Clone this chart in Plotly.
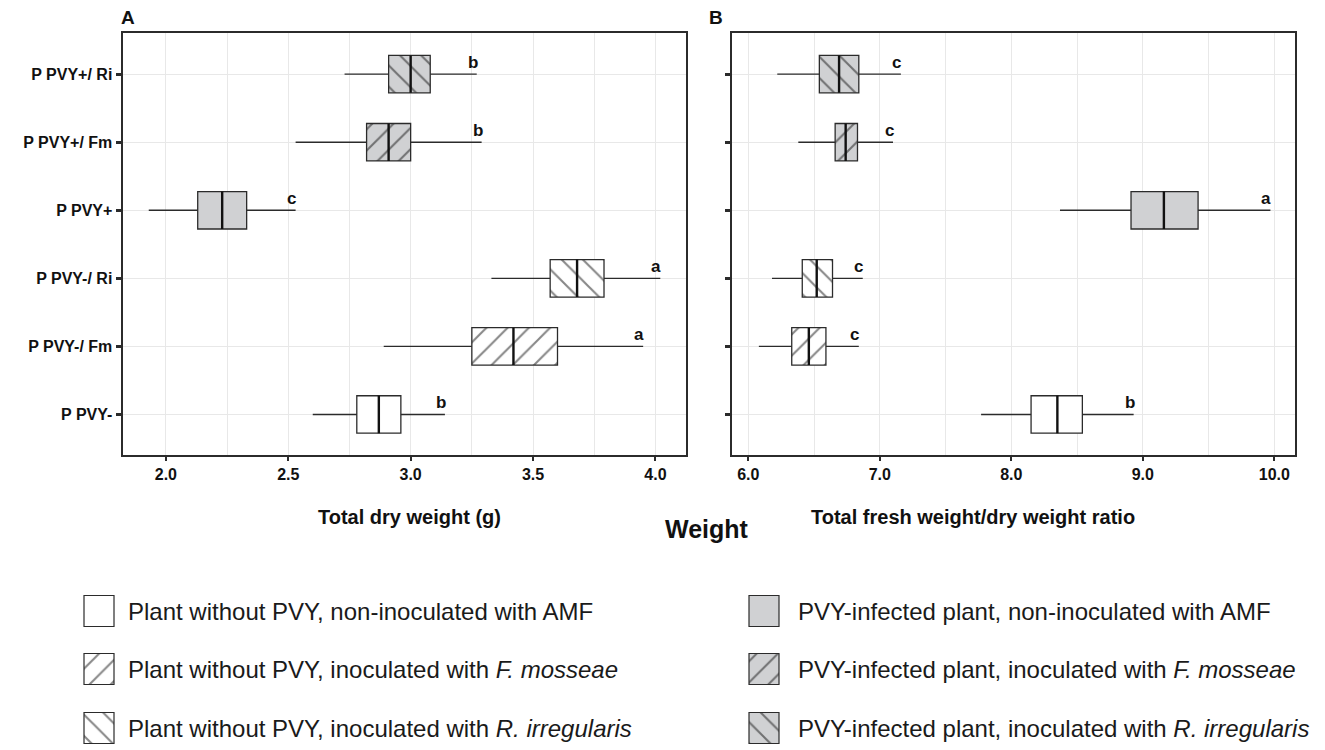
import plotly.graph_objects as go

# ---------------- data ----------------
categories = ["P PVY-", "P PVY-/ Fm", "P PVY-/ Ri", "P PVY+", "P PVY+/ Fm", "P PVY+/ Ri"]

# Panel A: total dry weight (g)
dry_low = [2.60, 2.89, 3.33, 1.93, 2.53, 2.73]
dry_q1 = [2.78, 3.25, 3.57, 2.13, 2.82, 2.91]
dry_med = [2.87, 3.42, 3.68, 2.23, 2.91, 3.00]
dry_q3 = [2.96, 3.60, 3.79, 2.33, 3.00, 3.08]
dry_high = [3.14, 3.95, 4.02, 2.53, 3.29, 3.27]
dry_letters = ["b", "a", "a", "c", "b", "b"]

# Panel B: total fresh weight / dry weight ratio
ratio_low = [7.77, 6.08, 6.18, 8.37, 6.38, 6.22]
ratio_q1 = [8.15, 6.33, 6.41, 8.91, 6.66, 6.54]
ratio_med = [8.35, 6.46, 6.52, 9.16, 6.74, 6.69]
ratio_q3 = [8.54, 6.59, 6.64, 9.42, 6.83, 6.84]
ratio_high = [8.93, 6.84, 6.87, 9.97, 7.10, 7.16]
ratio_letters = ["b", "c", "c", "a", "c", "c"]

legend_labels = [
    "Plant without PVY, non-inoculated with AMF",
    "Plant without PVY, inoculated with <i>F. mosseae</i>",
    "Plant without PVY, inoculated with <i>R. irregularis</i>",
    "PVY-infected plant, non-inoculated with AMF",
    "PVY-infected plant, inoculated with <i>F. mosseae</i>",
    "PVY-infected plant, inoculated with <i>R. irregularis</i>",
]

# ---------------- style / layout ----------------
fills = ["white", "white", "white", "#d0d1d3", "#d0d1d3", "#d0d1d3"]
hatches = ["", "/", "\\", "", "/", "\\"]
BOX_W = 0.55
EDGE = "#2b2b2b"
OFF = 8                      # page body margin of the browser
W, H = 1325 - OFF, 750 - OFF
FONT = "Liberation Sans, Arial, sans-serif"


def px(v):
    """reference page pixel -> figure pixel"""
    return v - OFF


def fx(v):
    return px(v) / W


def fy(v):
    return 1 - px(v) / H


fig = go.Figure()

panels = [
    ("x", "y", dry_low, dry_q1, dry_med, dry_q3, dry_high, dry_letters),
    ("x2", "y2", ratio_low, ratio_q1, ratio_med, ratio_q3, ratio_high, ratio_letters),
]

annotations = []
for xa, ya, lo, q1, med, q3, hi, letters in panels:
    for i, cat in enumerate(categories):
        pos = i + 1
        fig.add_trace(go.Bar(
            y=[pos], x=[q3[i] - q1[i]], base=[q1[i]], orientation="h",
            width=BOX_W, xaxis=xa, yaxis=ya, name=cat, showlegend=False,
            marker=dict(color=fills[i], line=dict(color=EDGE, width=1.3),
                        pattern=dict(shape=hatches[i], fgcolor="#111111",
                                     bgcolor=fills[i], size=15, solidity=0.14)),
            hoverinfo="skip",
        ))
    wx, wy, mx, my = [], [], [], []
    for i in range(len(categories)):
        pos = i + 1
        wx += [lo[i], q1[i], None, q3[i], hi[i], None]
        wy += [pos, pos, None, pos, pos, None]
        mx += [med[i], med[i], None]
        my += [pos - BOX_W / 2, pos + BOX_W / 2, None]
        annotations.append(dict(
            x=hi[i], y=pos, xref=xa, yref=ya, text=letters[i], showarrow=False,
            xanchor="center", yanchor="bottom", xshift=-4, yshift=0,
            font=dict(family=FONT, size=17, color="#111111", weight="bold")))
    fig.add_trace(go.Scatter(x=wx, y=wy, mode="lines", xaxis=xa, yaxis=ya,
                             line=dict(color=EDGE, width=1.4), showlegend=False,
                             hoverinfo="skip"))
    fig.add_trace(go.Scatter(x=mx, y=my, mode="lines", xaxis=xa, yaxis=ya,
                             line=dict(color="#111111", width=2.4), showlegend=False,
                             hoverinfo="skip"))

# ---------------- custom legend (swatches on a pixel-scaled hidden axis) ----------------
LEG_TOP, LEG_BOT = 575, 750
LEG_COL_X = [84, 749]
LEG_TEXT_X = [126, 796]
LEG_ROW_Y = [611, 669, 728]
SW_W, SW_H = 30, 31
for i, lab in enumerate(legend_labels):
    col, row = i // 3, i % 3
    fig.add_trace(go.Bar(
        y=[LEG_ROW_Y[row]], x=[SW_W], base=[LEG_COL_X[col]], orientation="h",
        width=SW_H, xaxis="x3", yaxis="y3", showlegend=False, hoverinfo="skip",
        marker=dict(color=fills[i], line=dict(color=EDGE, width=1.2),
                    pattern=dict(shape=hatches[i], fgcolor="#111111",
                                 bgcolor=fills[i], size=15, solidity=0.14)),
    ))
    annotations.append(dict(
        x=LEG_TEXT_X[col], y=LEG_ROW_Y[row], xref="x3", yref="y3",
        text=lab, showarrow=False, xanchor="left", yanchor="middle",
        font=dict(family=FONT, size=24, color="#1a1a1a")))

# ---------------- titles ----------------
def title(xp, yp, text, size):
    return dict(x=fx(xp), y=fy(yp), xref="paper", yref="paper", text=text,
                showarrow=False, xanchor="center", yanchor="middle",
                font=dict(family=FONT, size=size, color="#111111", weight="bold"))


annotations += [
    title(128, 17, "A", 19),
    title(716, 17, "B", 19),
    title(410, 517, "Total dry weight (g)", 20),
    title(973, 517, "Total fresh weight/dry weight ratio", 20),
    title(707, 529, "Weight", 25),
]

grid = "#e8e8e8"
common_x = dict(showline=True, mirror=True, linecolor=EDGE, linewidth=1.5,
                ticks="outside", ticklen=4, tickwidth=1.5, tickcolor=EDGE,
                showgrid=True, gridcolor=grid, gridwidth=1, zeroline=False,
                tickfont=dict(family=FONT, size=16, color="#111111", weight="bold"))
common_y = dict(showline=True, mirror=True, linecolor=EDGE, linewidth=1.5,
                ticks="outside", ticklen=6, tickwidth=2.5, tickcolor=EDGE,
                showgrid=True, gridcolor=grid, gridwidth=1, zeroline=False,
                range=[0.4, 6.6], tickvals=list(range(1, len(categories) + 1)),
                ticktext=categories, domain=[fy(455.3), fy(33.3)],
                tickfont=dict(family=FONT, size=16, color="#111111", weight="bold"))

fig.update_layout(
    width=W, height=H, margin=dict(l=0, r=0, t=0, b=0),
    paper_bgcolor="white", plot_bgcolor="white", barmode="overlay",
    showlegend=False, annotations=annotations,
    xaxis=dict(common_x, domain=[fx(123.3), fx(686)], range=[1.826, 4.125],
               tickvals=[2.0, 2.5, 3.0, 3.5, 4.0], tickformat=".1f",
               minor=dict(dtick=0.25, tick0=2.0, showgrid=True, gridcolor=grid),
               anchor="y"),
    yaxis=dict(common_y, anchor="x"),
    xaxis2=dict(common_x, domain=[fx(732.3), fx(1295)], range=[5.878, 10.157],
                tickvals=[6.0, 7.0, 8.0, 9.0, 10.0], tickformat=".1f",
                minor=dict(dtick=0.5, tick0=6.0, showgrid=True, gridcolor=grid),
                anchor="y2"),
    yaxis2=dict(common_y, anchor="x2", showticklabels=False),
    xaxis3=dict(domain=[0, 1], range=[OFF, OFF + W], visible=False, anchor="y3",
                fixedrange=True),
    yaxis3=dict(domain=[0, fy(LEG_TOP)], range=[OFF + H, LEG_TOP], visible=False,
                anchor="x3", fixedrange=True),
)

fig.write_html("out.html")
